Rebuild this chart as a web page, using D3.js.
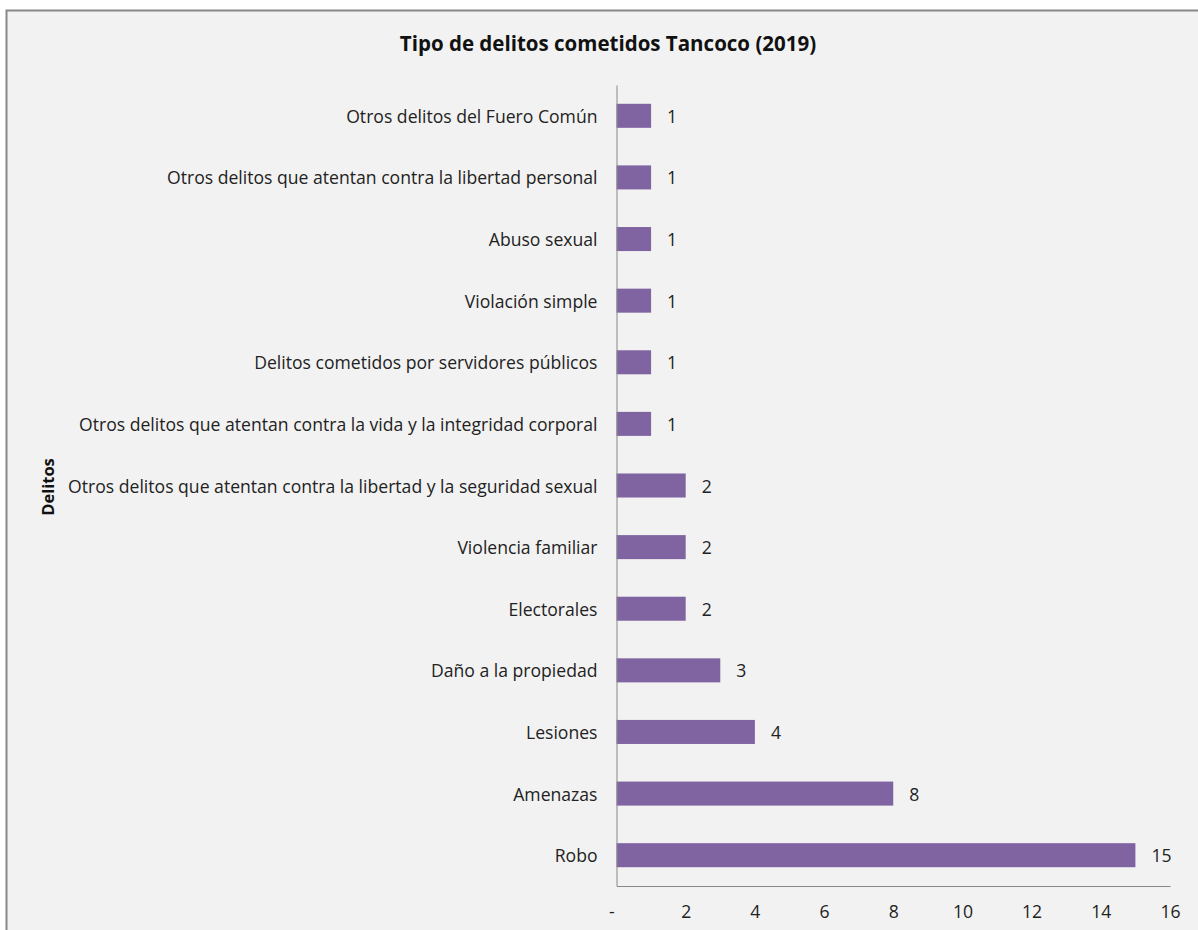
<!DOCTYPE html>
<html><head><meta charset="utf-8">
<script src="https://cdn.jsdelivr.net/npm/d3@7/dist/d3.min.js"></script>
<style>
html,body{margin:0;padding:0;background:#fff;}
svg{display:block;}
</style></head>
<body>
<svg id="chart" width="1198" height="930"></svg>
<script>
const categories = [
  "Otros delitos del Fuero Común",
  "Otros delitos que atentan contra la libertad personal",
  "Abuso sexual",
  "Violación simple",
  "Delitos cometidos por servidores públicos",
  "Otros delitos que atentan contra la vida y la integridad corporal",
  "Otros delitos que atentan contra la libertad y la seguridad sexual",
  "Violencia familiar",
  "Electorales",
  "Daño a la propiedad",
  "Lesiones",
  "Amenazas",
  "Robo"
];
const values = [1, 1, 1, 1, 1, 1, 2, 2, 2, 3, 4, 8, 15];
const xTicks = [0, 2, 4, 6, 8, 10, 12, 14, 16];
const xTickLabels = ["-", "2", "4", "6", "8", "10", "12", "14", "16"];
const title = "Tipo de delitos cometidos Tancoco (2019)";
const yTitle = "Delitos";

const svg = d3.select("#chart");
const font = "'Open Sans', sans-serif";
const fs = 17.6;

svg.append("rect").attr("x", 6.5).attr("y", 10.5).attr("width", 1300).attr("height", 1000)
  .attr("fill", "#f2f2f2").attr("stroke", "#888").attr("stroke-width", 2);

const x = d3.scaleLinear().domain([0, 16]).range([616.5, 1170]);
const y = d3.scaleBand().domain(categories).range([85, 886]).paddingInner(0.61).paddingOuter(0.305);

const g = svg.append("g");

g.selectAll("rect.bar").data(values).join("rect")
  .attr("class", "bar")
  .attr("x", x(0))
  .attr("y", (d, i) => y(categories[i]))
  .attr("width", d => x(d) - x(0))
  .attr("height", y.bandwidth())
  .attr("fill", "#8064a2");

g.selectAll("text.val").data(values).join("text")
  .attr("class", "val")
  .attr("x", d => x(d) + 16)
  .attr("y", (d, i) => y(categories[i]) + y.bandwidth() / 2)
  .attr("dy", "0.4em")
  .attr("font-family", font).attr("font-size", fs).attr("fill", "#222")
  .text(d => d);

// y axis
const yAxis = d3.axisLeft(y).tickSize(0).tickPadding(19);
const ya = svg.append("g").attr("transform", `translate(${x(0)},0)`).call(yAxis);
ya.select(".domain").attr("stroke", "#888");
ya.selectAll("text").attr("font-family", font).attr("font-size", fs).attr("fill", "#222").attr("dy", "0.4em");

// x axis
const xAxis = d3.axisBottom(x).tickValues(xTicks).tickSize(0).tickPadding(20)
  .tickFormat((d, i) => xTickLabels[i]);
const xa = svg.append("g").attr("transform", `translate(0,${886})`).call(xAxis);
xa.select(".domain").attr("stroke", "#888");
xa.selectAll("text").attr("font-family", font).attr("font-size", fs).attr("fill", "#222");
xa.selectAll("text").filter((d, i) => i === 0).attr("dx", "-0.3em");

svg.append("text").attr("x", 608).attr("y", 51).attr("text-anchor", "middle")
  .attr("font-family", font).attr("font-weight", "bold").attr("font-size", 20.5).attr("fill", "#111")
  .text(title);

svg.append("text").attr("transform", "translate(54,487) rotate(-90)").attr("text-anchor", "middle")
  .attr("font-family", font).attr("font-weight", "bold").attr("font-size", 16.5).attr("fill", "#111")
  .text(yTitle);
</script>
</body></html>
